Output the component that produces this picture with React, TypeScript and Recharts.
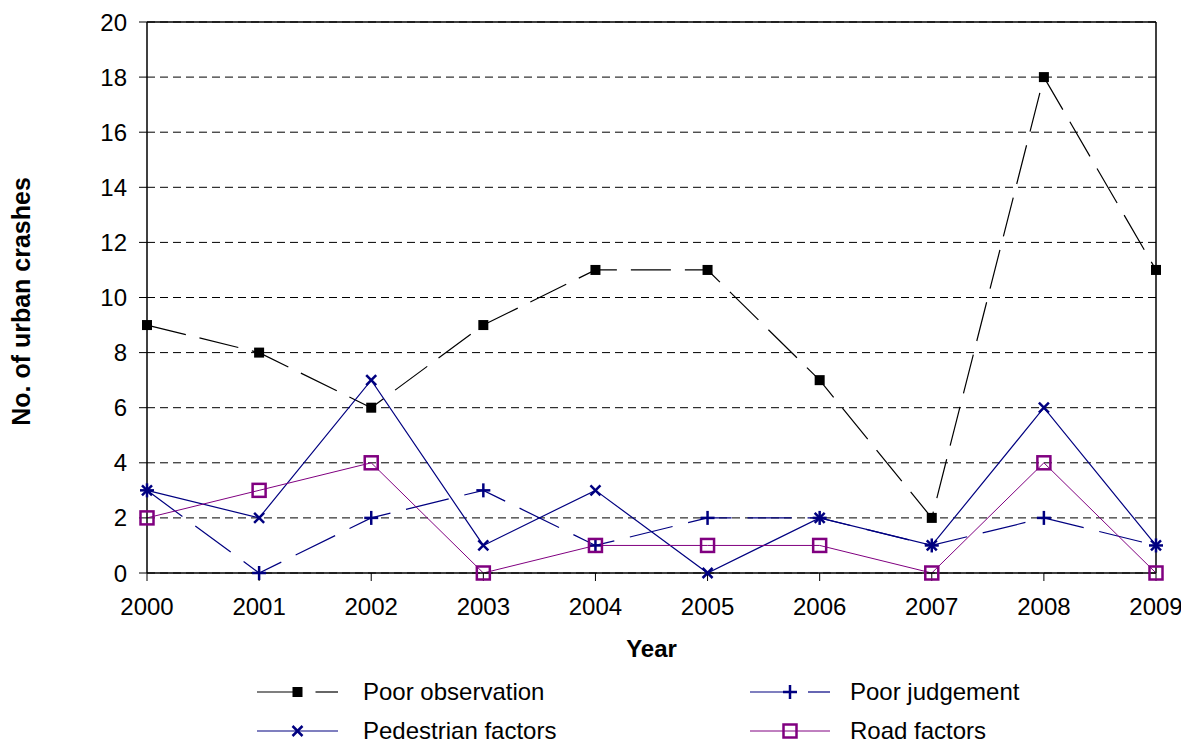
import React from "react";
import { LineChart, Line, XAxis, YAxis, CartesianGrid, ReferenceLine } from "recharts";

const years = [2000, 2001, 2002, 2003, 2004, 2005, 2006, 2007, 2008, 2009];
const poorObservation = [9, 8, 6, 9, 11, 11, 7, 2, 18, 11];
const poorJudgement = [3, 0, 2, 3, 1, 2, 2, 1, 2, 1];
const pedestrianFactors = [3, 2, 7, 1, 3, 0, 2, 1, 6, 1];
const roadFactors = [2, 3, 4, 0, 1, 1, 1, 0, 4, 0];
const yTicks = [0, 2, 4, 6, 8, 10, 12, 14, 16, 18, 20];

const data = years.map((year, i) => ({
  year,
  obs: poorObservation[i],
  judg: poorJudgement[i],
  ped: pedestrianFactors[i],
  road: roadFactors[i],
}));

const FONT = '"Liberation Sans", Arial, sans-serif';
const NAVY = "#000080";
const PURPLE = "#800080";
const FS = 24;

type MarkerKind = "filledSquare" | "plus" | "cross" | "hollowSquare";

const Marker = ({ kind, cx, cy, color }: { kind: MarkerKind; cx: number; cy: number; color: string }) => {
  if (kind === "filledSquare") {
    return <rect x={cx - 5} y={cy - 5} width={10} height={10} fill={color} />;
  }
  if (kind === "plus") {
    return (
      <g stroke={color} strokeWidth={2.5}>
        <line x1={cx - 7} y1={cy} x2={cx + 7} y2={cy} />
        <line x1={cx} y1={cy - 7} x2={cx} y2={cy + 7} />
      </g>
    );
  }
  if (kind === "cross") {
    return (
      <g stroke={color} strokeWidth={2.5}>
        <line x1={cx - 5} y1={cy - 5} x2={cx + 5} y2={cy + 5} />
        <line x1={cx - 5} y1={cy + 5} x2={cx + 5} y2={cy - 5} />
      </g>
    );
  }
  return <rect x={cx - 6.5} y={cy - 6.5} width={13} height={13} fill="none" stroke={color} strokeWidth={2.5} />;
};

const series = [
  { key: "obs", name: "Poor observation", color: "#000000", dash: "40 14", kind: "filledSquare" as MarkerKind, width: 1.2 },
  { key: "judg", name: "Poor judgement", color: NAVY, dash: "44 16", kind: "plus" as MarkerKind, width: 1.2 },
  { key: "ped", name: "Pedestrian factors", color: NAVY, dash: undefined, kind: "cross" as MarkerKind, width: 1.2 },
  { key: "road", name: "Road factors", color: PURPLE, dash: undefined, kind: "hollowSquare" as MarkerKind, width: 1 },
];

const legendPos = [
  { iconX: 249, iconW: 81, textX: 355, y: 684 },
  { iconX: 742, iconW: 80, textX: 842, y: 684 },
  { iconX: 249, iconW: 81, textX: 355, y: 723 },
  { iconX: 742, iconW: 80, textX: 842, y: 723 },
];

const LegendIcon = ({ s, w }: { s: (typeof series)[number]; w: number }) => {
  const mid = w / 2;
  return (
    <svg width={w} height={20} style={{ display: "block", overflow: "visible" }}>
      {s.dash ? (
        <g stroke={s.color} strokeWidth={s.width}>
          <line x1={0} y1={10} x2={mid} y2={10} />
          <line x1={mid + 18} y1={10} x2={w} y2={10} />
        </g>
      ) : (
        <line x1={0} y1={10} x2={w} y2={10} stroke={s.color} strokeWidth={s.width} />
      )}
      <Marker kind={s.kind} cx={mid} cy={10} color={s.color} />
    </svg>
  );
};

export default function App() {
  return (
    <div style={{ position: "relative", width: 1181, height: 737, fontFamily: FONT }}>
      <LineChart
        width={1181}
        height={737}
        data={data}
        margin={{ top: 14, right: 33, bottom: 72, left: 0 }}
        style={{ fontFamily: FONT }}
      >
        <CartesianGrid vertical={false} stroke="#000" strokeDasharray="8 5" strokeWidth={1} />
        <XAxis
          dataKey="year"
          type="number"
          domain={[2000, 2009]}
          ticks={years}
          height={100}
          tickSize={8}
          tickMargin={17}
          axisLine={{ stroke: "#000", strokeWidth: 1.5 }}
          tickLine={{ stroke: "#000" }}
          tick={{ fill: "#000", fontSize: FS, fontFamily: FONT }}
          allowDecimals={false}
          label={{
            content: (p: any) => {
              const vb = p.viewBox;
              return (
                <text
                  x={vb.x + vb.width / 2}
                  y={vb.y + 75}
                  textAnchor="middle"
                  dominantBaseline="central"
                  fontSize={FS}
                  fontWeight="bold"
                  fontFamily={FONT}
                  fill="#000"
                >
                  Year
                </text>
              );
            },
          }}
        />
        <YAxis
          type="number"
          domain={[0, 20]}
          ticks={yTicks}
          width={139}
          tickSize={8}
          tickMargin={12}
          axisLine={{ stroke: "#000", strokeWidth: 1.5 }}
          tickLine={{ stroke: "#000" }}
          tick={{ fill: "#000", fontSize: FS, fontFamily: FONT }}
          label={{
            content: (p: any) => {
              const vb = p.viewBox;
              const cx = 13;
              const cy = vb.y + vb.height / 2 + 4;
              return (
                <text
                  x={cx}
                  y={cy}
                  transform={`rotate(-90, ${cx}, ${cy})`}
                  textAnchor="middle"
                  dominantBaseline="central"
                  fontSize={25}
                  fontWeight="bold"
                  fontFamily={FONT}
                  fill="#000"
                >
                  No. of urban crashes
                </text>
              );
            },
          }}
        />
        <ReferenceLine y={20} stroke="#000" strokeWidth={1.5} />
        <ReferenceLine x={2009} stroke="#000" strokeWidth={1.5} />
        {series.map((s) => (
          <Line
            key={s.key}
            dataKey={s.key}
            name={s.name}
            type="linear"
            stroke={s.color}
            strokeWidth={s.width}
            strokeDasharray={s.dash}
            isAnimationActive={false}
            activeDot={false}
            dot={(p: any) => <Marker key={`${s.key}-${p.index}`} kind={s.kind} cx={p.cx} cy={p.cy} color={s.color} />}
          />
        ))}
      </LineChart>
      {series.map((s, i) => {
        const pos = legendPos[i];
        return (
          <React.Fragment key={s.key}>
            <div style={{ position: "absolute", left: pos.iconX, top: pos.y - 10 }}>
              <LegendIcon s={s} w={pos.iconW} />
            </div>
            <div
              style={{
                position: "absolute",
                left: pos.textX,
                top: pos.y - 14,
                fontSize: FS,
                lineHeight: "28px",
                color: "#000",
                whiteSpace: "nowrap",
              }}
            >
              {s.name}
            </div>
          </React.Fragment>
        );
      })}
    </div>
  );
}
